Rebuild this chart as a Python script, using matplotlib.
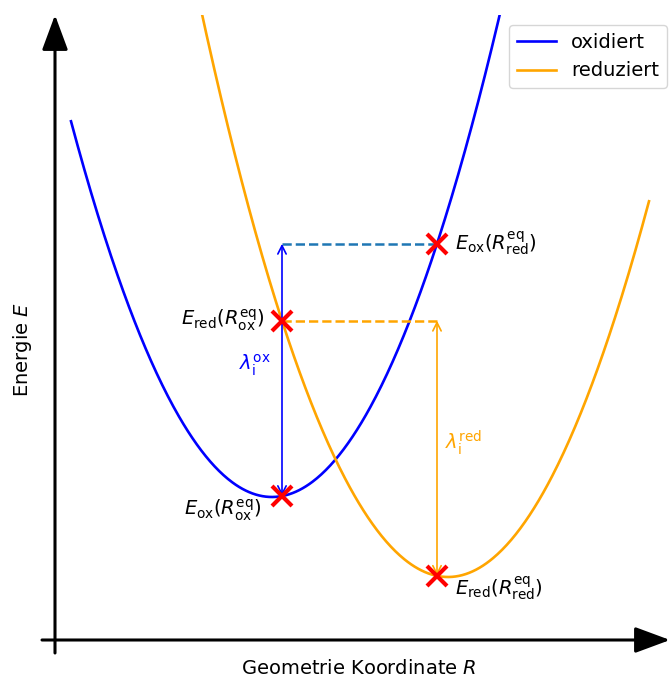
import numpy as np
import matplotlib
matplotlib.use("Agg")
import matplotlib.pyplot as plt

# ---- data ----
series_names = ["oxidiert", "reduziert"]
series_colors = ["blue", "orange"]
curve_centers = [2.17, 3.93]      # R of parabola minimum
curve_minima = [1.42, 0.62]       # E at minimum
curve_k = [0.93, 0.93]            # curvature
curve_R_start = [0.16, 1.40]
curve_R_end = [4.60, 5.94]
R_eq = [2.27, 3.82]               # R_ox^eq, R_red^eq (marker positions)

label_E_ox_ox = r"$E_\mathrm{ox}(R_\mathrm{ox}^\mathrm{eq})$"
label_E_red_ox = r"$E_\mathrm{red}(R_\mathrm{ox}^\mathrm{eq})$"
label_E_ox_red = r"$E_\mathrm{ox}(R_\mathrm{red}^\mathrm{eq})$"
label_E_red_red = r"$E_\mathrm{red}(R_\mathrm{red}^\mathrm{eq})$"
label_lam_ox = r"$\lambda_\mathrm{i}^\mathrm{ox}$"
label_lam_red = r"$\lambda_\mathrm{i}^\mathrm{red}$"
xlabel = r"Geometrie Koordinate $R$"
ylabel = r"Energie $E$"


def energy(i, R):
    return curve_minima[i] + curve_k[i] * (np.asarray(R) - curve_centers[i]) ** 2


fig = plt.figure(figsize=(6.7, 6.77), dpi=100)
ax = fig.add_axes([0, 0, 1, 662 / 677])
ax.set_xlim(-0.55, 6.15)
ax.set_ylim(-0.38, 6.24)
ax.axis("off")

# curves
for i in range(2):
    R = np.linspace(curve_R_start[i], curve_R_end[i], 400)
    ax.plot(R, energy(i, R), color=series_colors[i], lw=1.9, label=series_names[i])

E_ox_ox = energy(0, R_eq[0])
E_red_ox = energy(1, R_eq[0])
E_ox_red = energy(0, R_eq[1])
E_red_red = energy(1, R_eq[1])

# dashed lines
ax.plot([R_eq[0], R_eq[1]], [E_ox_red, E_ox_red], ls="--", color="#1f77b4", lw=1.8)
ax.plot([R_eq[0], R_eq[1]], [E_red_ox, E_red_ox], ls="--", color="orange", lw=1.8)

# vertical double arrows
ax.annotate("", xy=(R_eq[0], E_ox_red), xytext=(R_eq[0], E_ox_ox),
            arrowprops=dict(arrowstyle="<->", color="blue", lw=1.2,
                            mutation_scale=15, shrinkA=0, shrinkB=0))
ax.annotate("", xy=(R_eq[1], E_red_ox), xytext=(R_eq[1], E_red_red),
            arrowprops=dict(arrowstyle="<->", color="orange", lw=1.2,
                            mutation_scale=15, shrinkA=0, shrinkB=0))

# markers
ax.plot([R_eq[0], R_eq[0], R_eq[1], R_eq[1]],
        [E_ox_ox, E_red_ox, E_ox_red, E_red_red],
        ls="none", marker="x", color="red", ms=15, mew=3, zorder=5)

# marker labels
fs = 14
ax.text(R_eq[0] - 0.17, E_red_ox, label_E_red_ox, ha="right", va="center", fontsize=fs)
ax.text(R_eq[0] - 0.21, E_ox_ox - 0.14, label_E_ox_ox, ha="right", va="center", fontsize=fs)
ax.text(R_eq[1] + 0.18, E_ox_red, label_E_ox_red, ha="left", va="center", fontsize=fs)
ax.text(R_eq[1] + 0.18, E_red_red - 0.13, label_E_red_red, ha="left", va="center", fontsize=fs)

ax.text(2.00, 2.74, label_lam_ox, color="blue", ha="center", va="center", fontsize=fs)
ax.text(4.09, 1.96, label_lam_red, color="orange", ha="center", va="center", fontsize=fs)

# axis arrows
ax.annotate("", xy=(0, 6.24), xytext=(0, -0.14), annotation_clip=False,
            arrowprops=dict(arrowstyle="-|>,head_length=1.08,head_width=0.4",
                            color="black", lw=2.2, mutation_scale=20,
                            shrinkA=0, shrinkB=0))
ax.annotate("", xy=(6.15, -0.01), xytext=(-0.13, -0.01), annotation_clip=False,
            arrowprops=dict(arrowstyle="-|>,head_length=1.08,head_width=0.4",
                            color="black", lw=2.2, mutation_scale=20,
                            shrinkA=0, shrinkB=0))

# axis labels
ax.text(-0.33, 2.89, ylabel, rotation=90, ha="center", va="center", fontsize=fs)
ax.text(3.04, -0.29, xlabel, ha="center", va="center", fontsize=fs)

ax.legend(loc="upper right", bbox_to_anchor=(667 / 670, 1 - 25 / 677),
          bbox_transform=fig.transFigure, borderaxespad=0, fontsize=fs)

fig.savefig("out.png", dpi=100)
